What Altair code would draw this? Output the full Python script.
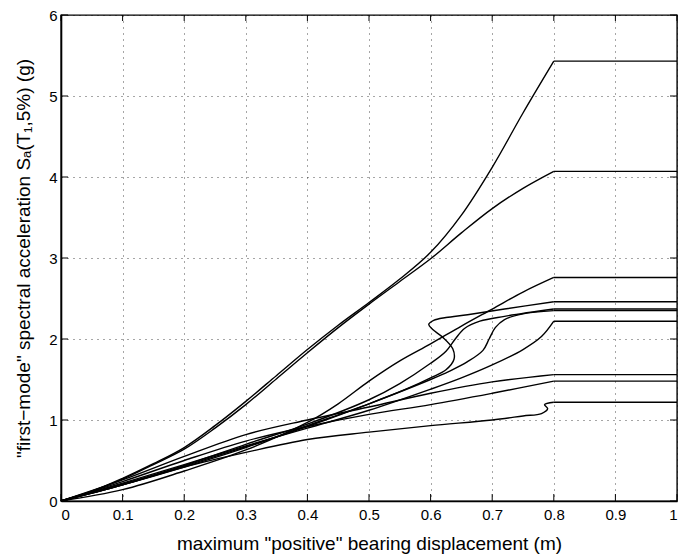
import altair as alt
import pandas as pd

# ---- tick values ----
x_ticks = [0, 0.1, 0.2, 0.3, 0.4, 0.5, 0.6, 0.7, 0.8, 0.9, 1.0]
y_ticks = [0, 1, 2, 3, 4, 5, 6]

# ---- IDA curves (displacement, Sa); last point = flatline end at 1.0 ----
a_x = [0, 0.05, 0.1, 0.15, 0.2, 0.25, 0.3, 0.35, 0.4, 0.45, 0.5, 0.55, 0.6, 0.65, 0.7, 0.75, 0.8, 1.0]
a_y = [0, 0.12, 0.28, 0.46, 0.66, 0.93, 1.23, 1.55, 1.87, 2.17, 2.45, 2.74, 3.07, 3.53, 4.12, 4.79, 5.43, 5.43]

b_x = [0, 0.05, 0.1, 0.15, 0.2, 0.25, 0.3, 0.35, 0.4, 0.45, 0.5, 0.55, 0.6, 0.65, 0.7, 0.75, 0.8, 1.0]
b_y = [0, 0.12, 0.27, 0.45, 0.64, 0.90, 1.19, 1.51, 1.83, 2.14, 2.43, 2.71, 2.99, 3.31, 3.61, 3.86, 4.07, 4.07]

c_x = [0, 0.1, 0.2, 0.3, 0.4, 0.45, 0.5, 0.55, 0.6, 0.65, 0.7, 0.75, 0.8, 1.0]
c_y = [0, 0.14, 0.37, 0.63, 0.97, 1.20, 1.48, 1.73, 1.94, 2.16, 2.37, 2.58, 2.76, 2.76]

d_x = [0, 0.1, 0.2, 0.3, 0.4, 0.5, 0.56, 0.6, 0.625, 0.638, 0.636, 0.62, 0.603, 0.597, 0.605, 0.625, 0.66, 0.72, 0.8, 1.0]
d_y = [0, 0.20, 0.42, 0.66, 0.93, 1.20, 1.38, 1.52, 1.62, 1.75, 1.88, 2.02, 2.12, 2.18, 2.23, 2.265, 2.30, 2.37, 2.46, 2.46]

e_x = [0, 0.1, 0.2, 0.3, 0.4, 0.5, 0.6, 0.63, 0.66, 0.685, 0.695, 0.705, 0.72, 0.75, 0.8, 1.0]
e_y = [0, 0.20, 0.43, 0.67, 0.92, 1.20, 1.50, 1.60, 1.72, 1.86, 2.00, 2.14, 2.24, 2.31, 2.35, 2.35]

f_x = [0, 0.1, 0.2, 0.3, 0.4, 0.5, 0.55, 0.6, 0.625, 0.64, 0.655, 0.68, 0.72, 0.8, 1.0]
f_y = [0, 0.21, 0.44, 0.70, 0.95, 1.25, 1.45, 1.70, 1.85, 2.00, 2.13, 2.22, 2.28, 2.37, 2.37]

g_x = [0, 0.1, 0.2, 0.3, 0.4, 0.5, 0.6, 0.7, 0.75, 0.78, 0.79, 0.785, 0.8, 1.0]
g_y = [0, 0.20, 0.42, 0.60, 0.76, 0.85, 0.93, 1.00, 1.05, 1.08, 1.14, 1.19, 1.22, 1.22]

h_x = [0, 0.1, 0.2, 0.3, 0.4, 0.5, 0.6, 0.7, 0.8, 1.0]
h_y = [0, 0.24, 0.50, 0.74, 0.92, 1.07, 1.19, 1.33, 1.48, 1.48]

i_x = [0, 0.1, 0.2, 0.3, 0.4, 0.5, 0.6, 0.7, 0.8, 1.0]
i_y = [0, 0.26, 0.55, 0.82, 1.00, 1.16, 1.33, 1.47, 1.56, 1.56]

j_x = [0, 0.1, 0.2, 0.3, 0.4, 0.5, 0.6, 0.65, 0.7, 0.75, 0.78, 0.8, 1.0]
j_y = [0, 0.22, 0.45, 0.68, 0.90, 1.12, 1.38, 1.52, 1.68, 1.87, 2.03, 2.22, 2.22]

curves = {"A": (a_x, a_y), "B": (b_x, b_y), "C": (c_x, c_y), "D": (d_x, d_y),
          "E": (e_x, e_y), "F": (f_x, f_y), "G": (g_x, g_y), "H": (h_x, h_y),
          "I": (i_x, i_y), "J": (j_x, j_y)}

rise_rows, flat_rows = [], []
for name, (xs, ys) in curves.items():
    n = len(xs)
    for k in range(n - 1):
        rise_rows.append({"curve": name, "order": k, "x": xs[k], "y": ys[k]})
    for k in (n - 2, n - 1):
        flat_rows.append({"curve": name, "order": k, "x": xs[k], "y": ys[k]})
rise = pd.DataFrame(rise_rows)
flat = pd.DataFrame(flat_rows)

W, H = 616, 486
FONT = "Liberation Sans"

xscale = alt.Scale(domain=[0, 1], nice=False, zero=False)
yscale = alt.Scale(domain=[0, 6], nice=False, zero=False)
xaxis = alt.Axis(values=x_ticks, format="~g",
                 title='maximum "positive" bearing displacement (m)',
                 titlePadding=12, labelPadding=6)
yaxis = alt.Axis(values=y_ticks, format="d",
                 title='"first\u2212mode" spectral acceleration S\u2090(T\u2081,5%) (g)',
                 titlePadding=15, labelPadding=4)

X = alt.X("x:Q", scale=xscale, axis=xaxis)
Y = alt.Y("y:Q", scale=yscale, axis=yaxis)

rise_layer = alt.Chart(rise).mark_line(color="black", strokeWidth=1.4, interpolate="catmull-rom").encode(
    x=X, y=Y, detail="curve:N", order="order:Q")
flat_layer = alt.Chart(flat).mark_line(color="black", strokeWidth=1.4).encode(
    x=X, y=Y, detail="curve:N", order="order:Q")

xt = pd.DataFrame({"x": x_ticks})
yt = pd.DataFrame({"y": y_ticks})

TL = 7
xb = alt.Chart(xt).mark_rule(color="black", strokeWidth=1).encode(
    x=X, y=alt.value(H), y2=alt.value(H - TL))
xtp = alt.Chart(xt).mark_rule(color="black", strokeWidth=1).encode(
    x=X, y=alt.value(0), y2=alt.value(TL - 1))
yl = alt.Chart(yt).mark_rule(color="black", strokeWidth=1).encode(
    y=Y, x=alt.value(0), x2=alt.value(TL))
yr = alt.Chart(yt).mark_rule(color="black", strokeWidth=1).encode(
    y=Y, x=alt.value(W), x2=alt.value(W - TL))

chart = alt.layer(rise_layer, flat_layer, xb, xtp, yl, yr).properties(
    width=W, height=H,
    autosize=alt.AutoSizeParams(type="none"),
    padding={"left": 61, "top": 15, "right": 1, "bottom": 58},
    background="white",
).configure_view(
    stroke="black", strokeWidth=1.4
).configure_axis(
    labelFont=FONT, labelFontSize=15, labelColor="black",
    titleFont=FONT, titleFontSize=19, titleFontWeight="normal", titleColor="black",
    grid=True, gridColor="black", gridDash=[1, 5], gridOpacity=0.7, gridWidth=1,
    domain=True, domainColor="black", domainWidth=1.6,
    ticks=False,
)

chart.save("out.html", embed_options={"renderer": "svg", "actions": False})
